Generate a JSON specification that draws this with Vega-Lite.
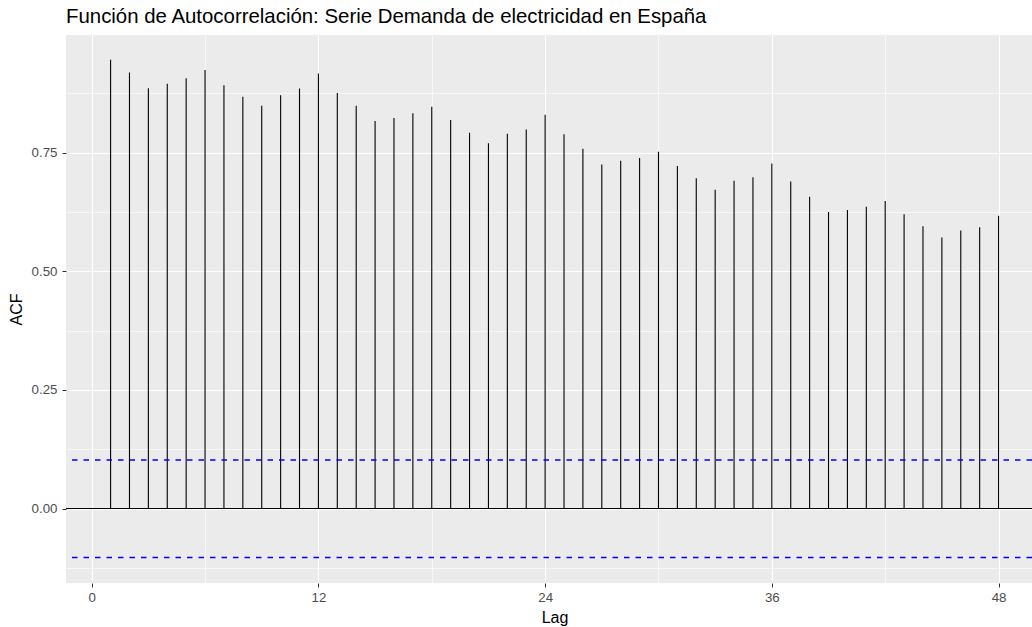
{
  "$schema": "https://vega.github.io/schema/vega-lite/v6.json",
  "autosize": "none",
  "width": 966,
  "height": 548,
  "padding": {"left": 66, "top": 35, "right": 0, "bottom": 44},
  "background": "white",
  "title": {
    "text": "Función de Autocorrelación: Serie Demanda de electricidad en España",
    "anchor": "start",
    "frame": "group",
    "font": "Liberation Sans",
    "fontSize": 20.4,
    "fontWeight": "normal",
    "color": "black",
    "baseline": "alphabetic",
    "offset": 11,
    "dy": 19
  },
  "config": {
    "view": {"fill": "#EBEBEB", "stroke": null},
    "axis": {
      "domain": false,
      "labelFont": "Liberation Sans",
      "labelFontSize": 13.3,
      "labelColor": "#4D4D4D",
      "titleFont": "Liberation Sans",
      "titleFontSize": 16,
      "titleFontWeight": "normal",
      "titleColor": "black",
      "tickColor": "#333333",
      "tickSize": 4,
      "tickWidth": 1,
      "gridColor": "white"
    }
  },
  "datasets": {
    "acf": [
      {"lag": 1, "acf": 0.946},
      {"lag": 2, "acf": 0.919},
      {"lag": 3, "acf": 0.886},
      {"lag": 4, "acf": 0.895},
      {"lag": 5, "acf": 0.907},
      {"lag": 6, "acf": 0.924},
      {"lag": 7, "acf": 0.892},
      {"lag": 8, "acf": 0.868},
      {"lag": 9, "acf": 0.849},
      {"lag": 10, "acf": 0.871},
      {"lag": 11, "acf": 0.885},
      {"lag": 12, "acf": 0.917},
      {"lag": 13, "acf": 0.876},
      {"lag": 14, "acf": 0.849},
      {"lag": 15, "acf": 0.817},
      {"lag": 16, "acf": 0.823},
      {"lag": 17, "acf": 0.833},
      {"lag": 18, "acf": 0.847},
      {"lag": 19, "acf": 0.819},
      {"lag": 20, "acf": 0.792},
      {"lag": 21, "acf": 0.770},
      {"lag": 22, "acf": 0.790},
      {"lag": 23, "acf": 0.799},
      {"lag": 24, "acf": 0.830},
      {"lag": 25, "acf": 0.789},
      {"lag": 26, "acf": 0.758},
      {"lag": 27, "acf": 0.725},
      {"lag": 28, "acf": 0.733},
      {"lag": 29, "acf": 0.739},
      {"lag": 30, "acf": 0.752},
      {"lag": 31, "acf": 0.722},
      {"lag": 32, "acf": 0.696},
      {"lag": 33, "acf": 0.672},
      {"lag": 34, "acf": 0.691},
      {"lag": 35, "acf": 0.698},
      {"lag": 36, "acf": 0.727},
      {"lag": 37, "acf": 0.689},
      {"lag": 38, "acf": 0.657},
      {"lag": 39, "acf": 0.625},
      {"lag": 40, "acf": 0.629},
      {"lag": 41, "acf": 0.636},
      {"lag": 42, "acf": 0.648},
      {"lag": 43, "acf": 0.620},
      {"lag": 44, "acf": 0.595},
      {"lag": 45, "acf": 0.571},
      {"lag": 46, "acf": 0.586},
      {"lag": 47, "acf": 0.593},
      {"lag": 48, "acf": 0.617}
    ],
    "zero": [{"level": 0}],
    "ci": [{"level": 0.1025}, {"level": -0.1035}]
  },
  "layer": [
    {
      "data": {"name": "acf"},
      "mark": {"type": "rule", "color": "black", "strokeWidth": 1.1},
      "encoding": {
        "x": {
          "field": "lag",
          "type": "quantitative",
          "title": "Lag",
          "scale": {"domain": [-1.36, 49.77], "nice": false, "zero": false},
          "axis": {
            "values": [0, 6, 12, 18, 24, 30, 36, 42, 48],
            "labelExpr": "datum.value % 12 === 0 ? format(datum.value, 'd') : ''",
            "tickOpacity": {"condition": {"test": "datum.value % 12 === 0", "value": 1}, "value": 0},
            "gridWidth": {"condition": {"test": "datum.value % 12 === 0", "value": 1.1}, "value": 0.6},
            "labelPadding": 3,
            "titleBaseline": "alphabetic",
            "titleY": 39,
            "titleX": 488.5
          }
        },
        "y": {
          "field": "acf",
          "type": "quantitative",
          "title": "ACF",
          "scale": {"domain": [-0.157, 0.998], "nice": false, "zero": false},
          "axis": {
            "values": [-0.125, 0, 0.125, 0.25, 0.375, 0.5, 0.625, 0.75, 0.875],
            "labelExpr": "abs(datum.value * 4 - round(datum.value * 4)) < 0.000001 ? format(datum.value, '.2f') : ''",
            "tickOpacity": {"condition": {"test": "abs(datum.value * 4 - round(datum.value * 4)) < 0.000001", "value": 1}, "value": 0},
            "gridWidth": {"condition": {"test": "abs(datum.value * 4 - round(datum.value * 4)) < 0.000001", "value": 1.1}, "value": 0.6},
            "labelPadding": 5,
            "titleAngle": -90,
            "titleBaseline": "alphabetic",
            "titleAlign": "center",
            "titleX": -45,
            "titleY": 274
          }
        },
        "y2": {"datum": 0}
      }
    },
    {
      "data": {"name": "zero"},
      "mark": {"type": "rule", "stroke": "black", "strokeWidth": 1.1},
      "encoding": {"y": {"field": "level", "type": "quantitative"}}
    },
    {
      "data": {"name": "ci"},
      "mark": {"type": "rule", "stroke": "#0000FF", "strokeWidth": 1.5, "strokeDash": [5.5, 6]},
      "encoding": {"y": {"field": "level", "type": "quantitative"}}
    }
  ]
}
